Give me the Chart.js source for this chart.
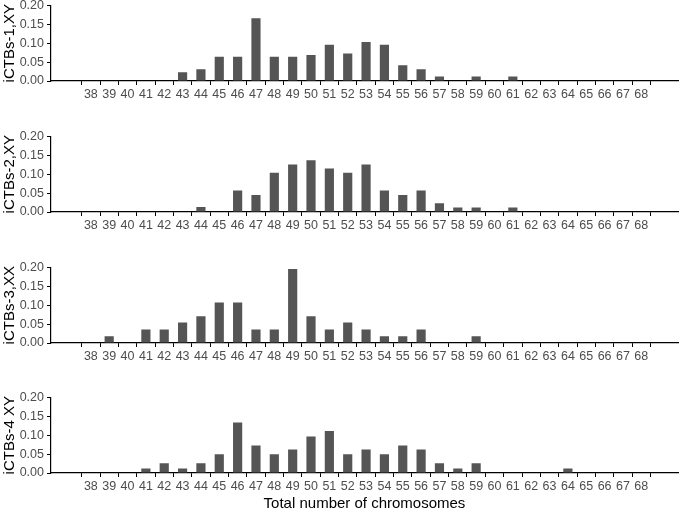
<!DOCTYPE html>
<html>
<head>
<meta charset="utf-8">
<script src="https://cdn.jsdelivr.net/npm/chart.js@4.4.0/dist/chart.umd.min.js"></script>
<style>
  body { margin: 0; background: #fff; }
  #wrap { position: relative; width: 681px; height: 512px; overflow: hidden; }
  .panel { position: absolute; left: 0; width: 681px; height: 110px; }
  #xtitle { position: absolute; left: 51px; width: 627px; top: 494px; text-align: center;
    font: 15px "Liberation Sans", Arial, sans-serif; color: #000; }
</style>
</head>
<body>
<div id="wrap">
  <div class="panel" style="top:-5px"><canvas id="c1"></canvas></div>
  <div class="panel" style="top:126px"><canvas id="c2"></canvas></div>
  <div class="panel" style="top:257px"><canvas id="c3"></canvas></div>
  <div class="panel" style="top:387px"><canvas id="c4"></canvas></div>
  <div id="xtitle">Total number of chromosomes</div>
</div>
<script>
// chromosome counts on the x axis
const chromosomes = [38, 39, 40, 41, 42, 43, 44, 45, 46, 47, 48, 49, 50, 51, 52, 53,
  54, 55, 56, 57, 58, 59, 60, 61, 62, 63, 64, 65, 66, 67, 68];

// frequency per chromosome number, 38 .. 68
const ictbs1 = [0, 0, 0, 0, 0, 0.023, 0.031, 0.064, 0.064, 0.166, 0.064, 0.064, 0.069, 0.096,
  0.073, 0.103, 0.096, 0.042, 0.031, 0.012, 0, 0.012, 0, 0.012, 0, 0, 0, 0, 0, 0, 0];
const ictbs2 = [0, 0, 0, 0, 0, 0, 0.013, 0, 0.057, 0.045, 0.104, 0.126, 0.137, 0.115,
  0.104, 0.126, 0.057, 0.045, 0.057, 0.023, 0.012, 0.012, 0, 0.012, 0, 0, 0, 0, 0, 0, 0];
const ictbs3 = [0, 0.018, 0, 0.036, 0.036, 0.054, 0.071, 0.107, 0.107, 0.036, 0.036, 0.196, 0.071, 0.036,
  0.054, 0.036, 0.018, 0.018, 0.036, 0, 0, 0.018, 0, 0, 0, 0, 0, 0, 0, 0, 0];
const ictbs4 = [0, 0, 0, 0.012, 0.026, 0.012, 0.026, 0.050, 0.134, 0.073, 0.050, 0.062, 0.097, 0.111,
  0.050, 0.062, 0.050, 0.073, 0.062, 0.026, 0.012, 0.026, 0, 0, 0, 0, 0.012, 0, 0, 0, 0];

const panelNames = ['iCTBs-1,XY', 'iCTBs-2,XY', 'iCTBs-3,XX', 'iCTBs-4 XY'];
const yTicks = [0, 0.05, 0.10, 0.15, 0.20];

const font = 'Liberation Sans, Arial, sans-serif';
const tickColor = '#4d4d4d';

function makePanel(id, name, values) {
  new Chart(document.getElementById(id), {
    type: 'bar',
    data: {
      datasets: [{
        label: name,
        data: chromosomes.map((c, i) => ({ x: c, y: values[i] })),
        backgroundColor: '#555555',
        borderWidth: 0,
        barPercentage: 0.5,
        categoryPercentage: 1
      }]
    },
    options: {
      responsive: true,
      maintainAspectRatio: false,
      animation: false,
      layout: { padding: { left: 0, right: 3, top: 0, bottom: 0 } },
      plugins: { legend: { display: false }, tooltip: { enabled: false } },
      scales: {
        x: {
          type: 'linear',
          min: 36.38,
          max: 69.45,
          afterBuildTicks: (s) => { s.ticks = chromosomes.map(v => ({ value: v })); },
          afterFit: (s) => { s.height = 24; },
          border: { display: true, color: '#000', width: 1.2 },
          grid: { display: true, drawOnChartArea: false, drawTicks: true, tickLength: 4, color: '#000' },
          ticks: {
            autoSkip: false, maxRotation: 0, padding: 2,
            color: tickColor, font: { family: font, size: 12.5 },
            callback: (v) => String(v)
          }
        },
        y: {
          min: 0,
          max: 0.2,
          afterBuildTicks: (s) => { s.ticks = yTicks.map(v => ({ value: v })); },
          afterFit: (s) => { s.width = 51; },
          border: { display: true, color: '#000', width: 1.2 },
          grid: { display: true, drawOnChartArea: false, drawTicks: true, tickLength: 4, color: '#000' },
          ticks: {
            padding: 3,
            color: tickColor, font: { family: font, size: 12.5 },
            callback: (v) => v.toFixed(2)
          },
          title: {
            display: true, text: name, color: '#000',
            font: { family: font, size: 15 }, padding: { top: 1, bottom: 0 }
          }
        }
      }
    }
  });
}

makePanel('c1', panelNames[0], ictbs1);
makePanel('c2', panelNames[1], ictbs2);
makePanel('c3', panelNames[2], ictbs3);
makePanel('c4', panelNames[3], ictbs4);
</script>
</body>
</html>
